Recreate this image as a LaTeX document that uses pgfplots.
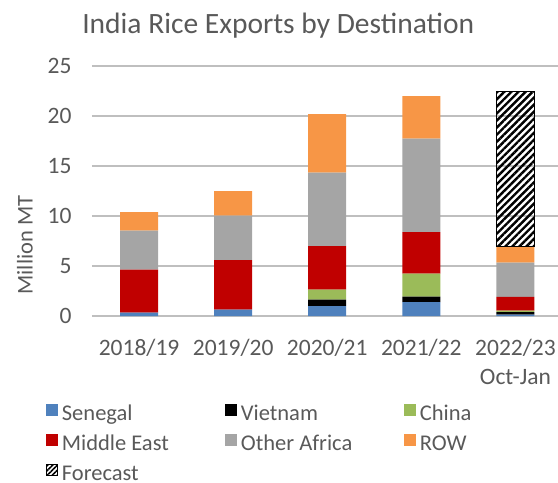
\documentclass[border=0pt]{standalone}
\usepackage{fontspec}
\setmainfont{Carlito}
\usepackage{pgfplots}
\pgfplotsset{compat=1.18}
\usetikzlibrary{patterns.meta}
\definecolor{txt}{HTML}{595959}
\definecolor{grid}{HTML}{D9D9D9}
\definecolor{cSen}{HTML}{4F81BD}
\definecolor{cChi}{HTML}{9BBB59}
\definecolor{cME}{HTML}{C00000}
\definecolor{cOA}{HTML}{A5A5A5}
\definecolor{cROW}{HTML}{F79646}
\pgfplotsset{sq/.style={legend image code/.code={\fill[##1] (0bp,0bp) rectangle (12bp,12bp);}}}
\begin{document}
\begin{tikzpicture}
\begin{axis}[
  at={(0,0)}, anchor=south west,
  scale only axis, width=470.5bp, height=250bp,
  ybar stacked, bar width=38bp,
  xmin=-0.5, xmax=4.5, ymin=0, ymax=25,
  xtick={0,1,2,3,4},
  xticklabels={2018/19,2019/20,2020/21,2021/22,{2022/23\\Oct-Jan}},
  ytick={0,5,10,15,20,25},
  xmajorgrids=false, ymajorgrids=true, grid style={grid, line width=1.5bp},
  axis line style={draw=none}, major tick length=0pt,
  xtick style={draw=none}, ytick style={draw=none},
  /pgf/number format/assume math mode=true,
  ticklabel style={font=\fontsize{23.5bp}{28.5bp}\selectfont, text=txt},
  xticklabel style={align=center, yshift=-20bp},
  yticklabel style={xshift=-17bp},
  ylabel={Million MT},
  ylabel style={font=\fontsize{22.5bp}{27bp}\selectfont, text=txt, at={(axis description cs:-0.1424,0.284)}, anchor=center},
  title={India Rice Exports by Destination},
  title style={font=\fontsize{29.5bp}{34bp}\selectfont, text=txt, at={(axis description cs:0.5,1)}, anchor=base, xshift=-49bp, yshift=27bp},
  legend columns=3,
  legend cell align=left,
  legend style={draw=none, fill=none, at={(axis description cs:-0.106,-0.33)}, anchor=north west,
    font=\fontsize{22.5bp}{27bp}\selectfont, text=txt,
    nodes={text height=15bp, text depth=5bp, inner ysep=5bp},
    /tikz/every odd column/.append style={column sep=2bp},
    /tikz/every even column/.append style={column sep=0bp}},
]
\addplot[sq, fill=cSen, draw=none] coordinates {(0,0.35) (1,0.65) (2,1.0) (3,1.4) (4,0.15)};
\addlegendentry{\makebox[161bp][l]{Senegal}}
\addplot[sq, fill=black, draw=none] coordinates {(0,0) (1,0) (2,0.65) (3,0.55) (4,0.25)};
\addlegendentry{\makebox[161bp][l]{Vietnam}}
\addplot[sq, fill=cChi, draw=none] coordinates {(0,0) (1,0) (2,1.0) (3,2.3) (4,0.15)};
\addlegendentry{China}
\addplot[sq, fill=cME, draw=none] coordinates {(0,4.3) (1,4.95) (2,4.35) (3,4.15) (4,1.37)};
\addlegendentry{\makebox[161bp][l]{Middle East}}
\addplot[sq, fill=cOA, draw=none] coordinates {(0,3.9) (1,4.45) (2,7.35) (3,9.35) (4,3.43)};
\addlegendentry{\makebox[161bp][l]{Other Africa}}
\addplot[sq, fill=cROW, draw=none] coordinates {(0,1.85) (1,2.45) (2,5.85) (3,4.25) (4,1.6)};
\addlegendentry{ROW}
\addlegendimage{legend image code/.code={\draw[black, line width=1bp, pattern={Lines[angle=45,distance=3.5bp,line width=1.6bp]}] (0.5bp,0.5bp) rectangle (11.5bp,11.5bp);}}
\addlegendentry{Forecast}
\end{axis}
\begin{axis}[
  at={(0,0)}, anchor=south west,
  scale only axis, width=470.5bp, height=250bp,
  ybar stacked, bar width=38bp,
  xmin=-0.5, xmax=4.5, ymin=0, ymax=25,
  hide axis,
]
\addplot[draw=none, fill=none] coordinates {(4,6.93)};
\addplot[draw=black, line width=1.5bp, pattern={Lines[angle=45,distance=5bp,line width=2.4bp]}, pattern color=black] coordinates {(4,15.5)};
\end{axis}
\pgfresetboundingbox
\path (-92bp,-167bp) rectangle (466bp,316bp);
\end{tikzpicture}
\end{document}
